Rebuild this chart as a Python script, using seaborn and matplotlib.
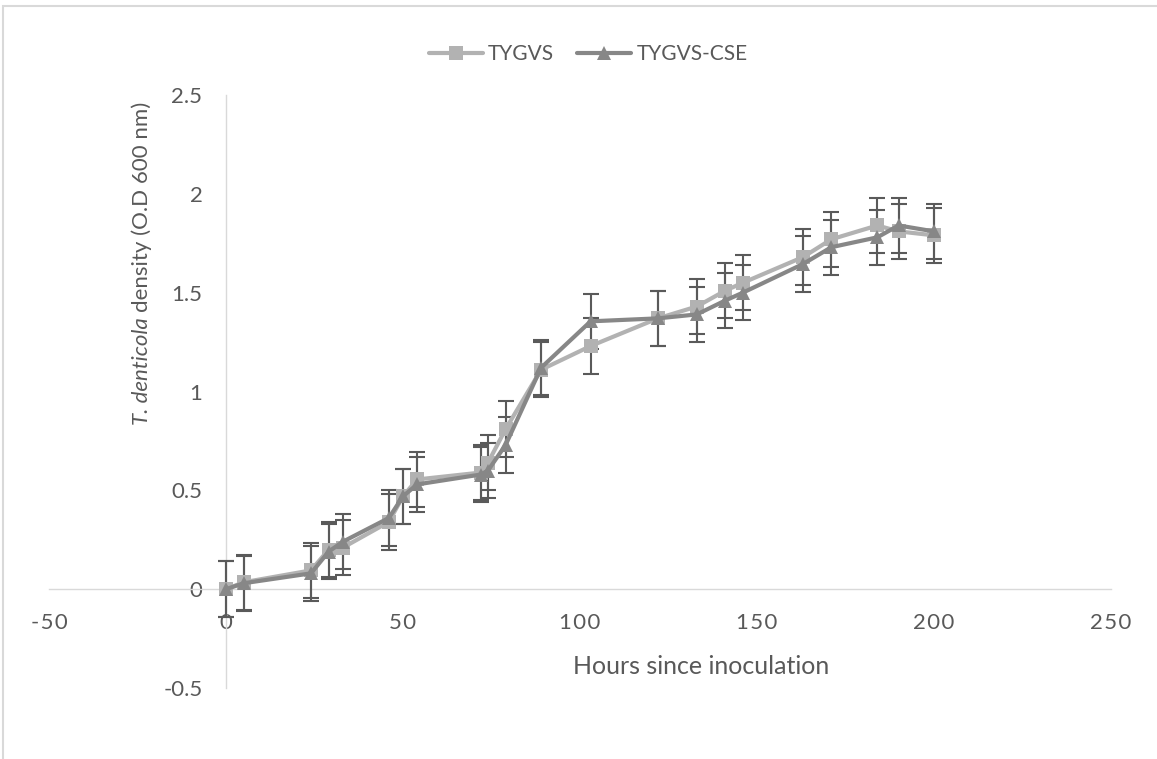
import matplotlib
matplotlib.use("Agg")
import matplotlib.pyplot as plt
import seaborn as sns
import pandas as pd
import numpy as np
from matplotlib.patches import Rectangle

hours = [0, 5, 24, 29, 33, 46, 50, 54, 72, 74, 79, 89, 103, 122, 133, 141, 146, 163, 171, 184, 190, 200]
tygvs = [0.0, 0.035, 0.095, 0.20, 0.21, 0.34, 0.47, 0.555, 0.59, 0.64, 0.81, 1.11, 1.23, 1.37, 1.43, 1.51, 1.55, 1.68, 1.77, 1.84, 1.81, 1.79]
tygvs_cse = [0.0, 0.03, 0.08, 0.19, 0.24, 0.36, 0.47, 0.53, 0.58, 0.60, 0.73, 1.12, 1.355, 1.37, 1.39, 1.46, 1.50, 1.645, 1.73, 1.78, 1.84, 1.81]
err_tygvs = [0.14] * len(hours)
err_cse = [0.14] * len(hours)
series_names = ["TYGVS", "TYGVS-CSE"]
x_ticks = [-50, 0, 50, 100, 150, 200, 250]
y_ticks = [-0.5, 0, 0.5, 1, 1.5, 2, 2.5]

sns.set_theme(style="white")
FONT = "Lato"
plt.rcParams["font.family"] = [FONT, "DejaVu Sans"]
TXT = "#595959"

W, H = 1157, 759
fig = plt.figure(figsize=(W / 100, H / 100), dpi=100)
ax = fig.add_axes([49 / W, 1 - 688 / H, (1111 - 49) / W, (688 - 95) / H])

df = pd.DataFrame({
    "hours": hours * 2,
    "od": tygvs + tygvs_cse,
    "medium": [series_names[0]] * len(hours) + [series_names[1]] * len(hours),
})
palette = {series_names[0]: "#B2B2B2", series_names[1]: "#878787"}

# error bars
for vals, errs in ((tygvs, err_tygvs), (tygvs_cse, err_cse)):
    ax.errorbar(hours, vals, yerr=errs, fmt="none", ecolor="#5A5A5A",
                elinewidth=1.5, capsize=5.5, capthick=1.5, zorder=2)

sns.lineplot(data=df, x="hours", y="od", hue="medium", style="medium",
             markers={series_names[0]: "s", series_names[1]: "^"}, dashes=False,
             palette=palette, linewidth=3.0, markersize=10, markeredgewidth=0,
             errorbar=None, sort=False, ax=ax, legend=True, zorder=3)

ax.set_xlim(-50, 250)
ax.set_ylim(-0.5, 2.5)
ax.set_xticks(x_ticks)
ax.set_yticks(y_ticks)
ax.set_xticklabels(["\u200a".join(str(v)) for v in x_ticks])
ax.set_yticklabels([("%g" % v) for v in y_ticks])
ax.set_xlabel("")
ax.set_ylabel("")

for s in ["top", "right"]:
    ax.spines[s].set_visible(False)
ax.spines["left"].set_position(("data", 0))
ax.spines["bottom"].set_position(("data", 0))
for s in ["left", "bottom"]:
    ax.spines[s].set_color("#D9D9D9")
    ax.spines[s].set_linewidth(1.0)
    ax.spines[s].set_zorder(1)
ax.tick_params(axis="both", length=0, colors=TXT, labelsize=16)
ax.tick_params(axis="y", pad=17)
ax.tick_params(axis="x", pad=17)
ax.patch.set_alpha(0)

# legend
handles, labels = ax.get_legend_handles_labels()
leg = ax.legend(handles, labels, loc="center", bbox_to_anchor=(588 / W, 1 - 54 / H),
                bbox_transform=fig.transFigure, ncol=2, frameon=False,
                fontsize=15, handlelength=2.6, handletextpad=0.25, columnspacing=1.1)
for t in leg.get_texts():
    t.set_color(TXT)

# axis titles
fig.text(701 / W, 1 - 667 / H, "Hours since inoculation", ha="center", va="center",
         fontsize=18, color=TXT)
t1 = fig.text(142 / W, 1 - 425 / H, "T. denticola", rotation=90, rotation_mode="anchor",
              ha="left", va="center", fontsize=16, color=TXT, style="italic")
fig.canvas.draw()
bb = t1.get_window_extent(renderer=fig.canvas.get_renderer())
fig.text(142 / W, (bb.y1 + 5) / H, "density (O.D 600 nm)", rotation=90,
         rotation_mode="anchor", ha="left", va="center", fontsize=16, color=TXT)

# chart border
fig.add_artist(Rectangle((3 / W, -0.05), 1.2, 1 - 6 / H + 0.05, transform=fig.transFigure,
                         fill=False, edgecolor="#D9D9D9", linewidth=1.5))

fig.savefig("out.png", dpi=100)
